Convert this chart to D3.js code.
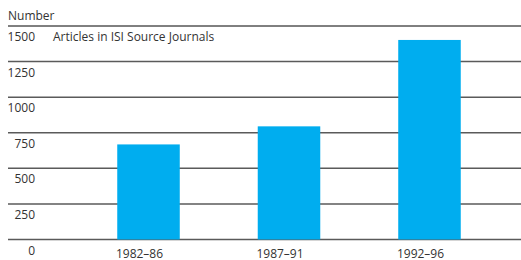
<!DOCTYPE html>
<html><head><meta charset="utf-8">
<script src="https://cdn.jsdelivr.net/npm/d3@7"></script>
<style>body{margin:0;background:#fff}svg{display:block}</style>
</head><body>
<script>
const categories = ["1982–86", "1987–91", "1992–96"];
const values = [668, 795, 1402];
const yTicks = [0, 250, 500, 750, 1000, 1250, 1500];
const yTitle = "Number";
const seriesLabel = "Articles in ISI Source Journals";

const W = 521, H = 260;
const svg = d3.select("body").append("svg").attr("width", W).attr("height", H);
const font = "'Open Sans', Arial, sans-serif";
const fs = 12;

const y = d3.scaleLinear().domain([0, 1500]).range([239.5, 26]);
const x = d3.scaleBand().domain(categories).range([47, 531]).paddingInner(0.555).paddingOuter(0.5);

// gridlines
svg.append("g").selectAll("line").data(yTicks).join("line")
  .attr("x1", 8).attr("x2", W)
  .attr("y1", d => y(d)).attr("y2", d => y(d))
  .attr("stroke", d => d === 1500 ? "#000" : "#5a5a5a")
  .attr("stroke-width", d => d === 1500 ? 1 : 1.5);

// y labels (below lines)
svg.append("g").selectAll("text").data(yTicks).join("text")
  .attr("x", 35).attr("y", d => y(d) + 15)
  .attr("text-anchor", "end")
  .attr("font-family", font).attr("font-size", fs).attr("fill", "#333")
  .text(d => d);

// bars
svg.append("g").selectAll("rect").data(values).join("rect")
  .attr("x", (d, i) => x(categories[i]))
  .attr("width", x.bandwidth())
  .attr("y", d => y(d))
  .attr("height", d => y(0) - y(d))
  .attr("fill", "#00adef");

// x labels (slightly left of bar centres, as in the original)
svg.append("g").selectAll("text").data(categories).join("text")
  .attr("x", d => x(d) + x.bandwidth() / 2 - 9).attr("y", 257.5)
  .attr("text-anchor", "middle")
  .attr("font-family", font).attr("font-size", fs).attr("fill", "#333")
  .text(d => d);

svg.append("text").attr("x", 8).attr("y", 20)
  .attr("font-family", font).attr("font-size", fs).attr("fill", "#333").text(yTitle);
svg.append("text").attr("x", 53).attr("y", 41)
  .attr("font-family", font).attr("font-size", fs).attr("fill", "#333").text(seriesLabel);
</script>
</body></html>
